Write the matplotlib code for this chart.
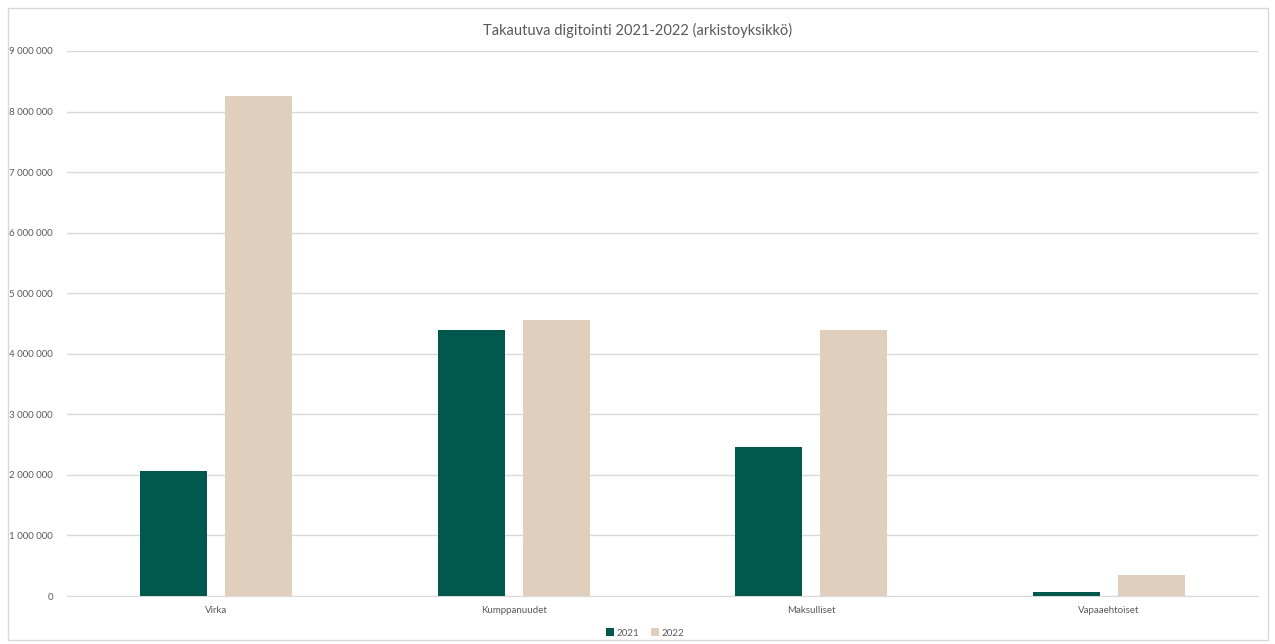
import numpy as np
import matplotlib
matplotlib.use('Agg')
import matplotlib.pyplot as plt
from matplotlib.patches import Rectangle
from matplotlib.ticker import FuncFormatter

plt.rcParams['font.family'] = ['Lato', 'DejaVu Sans']

categories = ['Virka', 'Kumppanuudet', 'Maksulliset', 'Vapaaehtoiset']
series_names = ['2021', '2022']
values_2021 = [2060000, 4390000, 2460000, 60000]
values_2022 = [8250000, 4560000, 4390000, 340000]
colors = ['#00594C', '#E0CFBC']

text_color = '#595959'
grid_color = '#D9D9D9'

fig = plt.figure(figsize=(12.75, 6.44), dpi=100)
# chart border
fig.patches.append(Rectangle((8 / 1275, 4 / 644), 1260 / 1275, 632 / 644,
                             transform=fig.transFigure, fill=False,
                             edgecolor='#D9D9D9', linewidth=1))

ax = fig.add_axes([67 / 1275, 48 / 644, 1191 / 1275, 545 / 644])

x = np.arange(len(categories))
width = 0.225
offset = 0.143
ax.bar(x - offset, values_2021, width, color=colors[0], label=series_names[0], zorder=3)
ax.bar(x + offset, values_2022, width, color=colors[1], label=series_names[1], zorder=3)

ax.set_xlim(-0.5, len(categories) - 0.5)
ax.set_ylim(0, 9000000)
ax.set_yticks(np.arange(0, 9000001, 1000000))
ax.yaxis.set_major_formatter(FuncFormatter(lambda v, p: f'{int(v):,}'.replace(',', ' ')))
ax.set_xticks(x)
ax.set_xticklabels(categories)

ax.grid(axis='y', color=grid_color, linewidth=1, zorder=0)
for s in ['top', 'right', 'left']:
    ax.spines[s].set_visible(False)
ax.spines['bottom'].set_color(grid_color)
ax.tick_params(axis='both', length=0, labelsize=7, colors=text_color)
ax.tick_params(axis='y', pad=10)
ax.tick_params(axis='x', pad=7)

fig.text(0.5, 1 - 30 / 644, 'Takautuva digitointi 2021-2022 (arkistoyksikkö)',
         ha='center', va='center', fontsize=10.5, color=text_color)

fig.legend(loc='center', bbox_to_anchor=(645 / 1275, 1 - 633 / 644), ncol=2,
           frameon=False, fontsize=7, handlelength=0.8, handleheight=0.8,
           columnspacing=1.2, handletextpad=0.3, labelcolor=text_color)

fig.savefig('out.png', dpi=100)
